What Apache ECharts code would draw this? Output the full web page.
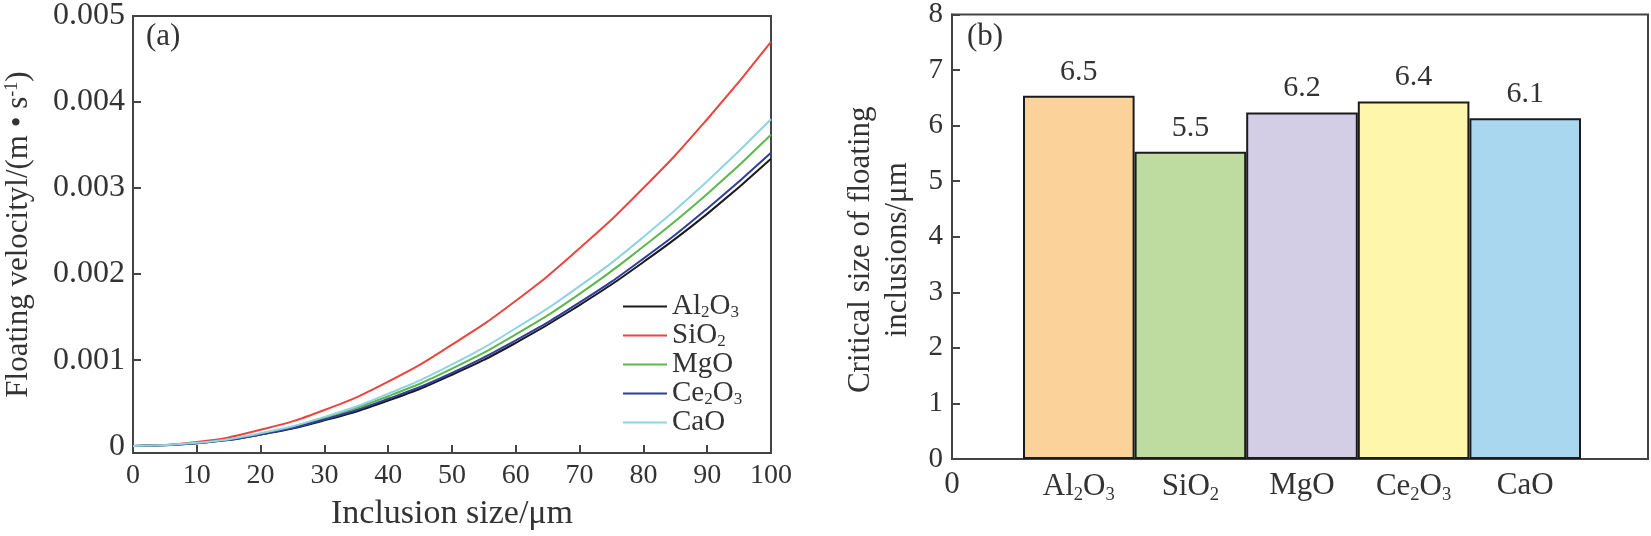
<!DOCTYPE html>
<html>
<head>
<meta charset="utf-8">
<script src="https://cdn.jsdelivr.net/npm/echarts@6/dist/echarts.min.js"></script>
<style>
  html, body { margin: 0; padding: 0; background: #fff; }
  #main { width: 1651px; height: 536px; }
</style>
</head>
<body>
<div id="main"></div>
<script>
// (a) floating velocity vs inclusion size, every 10 um
const sizes = [0, 10, 20, 30, 40, 50, 60, 70, 80, 90, 100]
const al2o3 = [0, 0.000033, 0.000134, 0.0003, 0.00053, 0.00083, 0.0012, 0.00164, 0.00214, 0.0027, 0.00334]
const sio2 = [0, 0.000047, 0.00019, 0.00042, 0.00075, 0.00118, 0.00169, 0.0023, 0.003, 0.0038, 0.0047]
const mgo = [0, 0.000036, 0.000145, 0.00033, 0.00058, 0.0009, 0.0013, 0.00177, 0.00232, 0.00293, 0.00362]
const ce2o3 = [0, 0.000034, 0.000136, 0.00031, 0.00055, 0.00085, 0.00123, 0.00167, 0.00218, 0.00276, 0.00341]
const cao = [0, 0.000038, 0.00015, 0.00034, 0.00061, 0.00095, 0.00137, 0.00186, 0.00243, 0.00308, 0.0038]
const velocityTicks = [0, 0.001, 0.002, 0.003, 0.004, 0.005]

// (b) critical size of floating inclusions
const oxides = ['Al2O3', 'SiO2', 'MgO', 'Ce2O3', 'CaO']
const criticalSize = [6.5, 5.5, 6.2, 6.4, 6.1]

const FONT = "'Liberation Serif', 'Times New Roman', serif"
const AXIS = '#444'
const lineColors = ['#1b1b1b', '#e8463e', '#5cb84a', '#2f3f9c', '#8fd4e0']
const barColors = ['#fcd29b', '#bedca0', '#d3cee6', '#fef6aa', '#aad7f0']

// chemical formula -> rich text with subscript digits
const formula = name => name.replace(/(\d)/g, '{s|$1}')
const subRich = size => ({
  s: { fontSize: size * 0.6, fontFamily: FONT, color: '#333', verticalAlign: 'bottom', padding: [size * 0.5, 0, 0, 0] }
})

const lineSeries = [al2o3, sio2, mgo, ce2o3, cao].map((vals, i) => ({
  name: oxides[i],
  type: 'line',
  xAxisIndex: 0,
  yAxisIndex: 0,
  smooth: true,
  symbol: 'none',
  data: sizes.map((x, j) => [x, vals[j]]),
  lineStyle: { color: lineColors[i], width: 2 },
  itemStyle: { color: lineColors[i] }
}))

const myChart = echarts.init(document.getElementById('main'))
const option = {
  animation: false,
  textStyle: { fontFamily: FONT },
  grid: [
    { left: 133, top: 12, width: 638, height: 447, show: true, borderColor: AXIS, borderWidth: 2 },
    { left: 952, top: 12, width: 696, height: 447, show: true, borderColor: AXIS, borderWidth: 2 },
    { left: 1023, top: 12, width: 558, height: 447 }
  ],
  legend: {
    data: oxides,
    orient: 'vertical',
    left: 618,
    top: 287,
    itemWidth: 44,
    itemHeight: 14,
    itemGap: 0,
    icon: 'path://M0,6 L44,6 L44,8 L0,8 Z',
    formatter: formula,
    textStyle: {
      fontSize: 29, fontFamily: FONT, color: '#333', lineHeight: 29,
      rich: { s: { fontSize: 17, lineHeight: 17, fontFamily: FONT, color: '#333', verticalAlign: 'bottom', padding: [12, 0, 0, 0] } }
    }
  },
  xAxis: [
    {
      gridIndex: 0, type: 'value', min: 0, max: 100, interval: 10,
      name: 'Inclusion size/μm', nameLocation: 'middle', nameGap: 44,
      nameTextStyle: { fontSize: 34, fontFamily: FONT, color: '#333' },
      axisLine: { show: true, onZero: false, lineStyle: { color: AXIS, width: 2 } },
      axisTick: { inside: true, length: 8, lineStyle: { color: AXIS, width: 2 } },
      axisLabel: { fontSize: 28, color: '#333', margin: 9 },
      splitLine: { show: false }
    },
    {
      gridIndex: 1, type: 'value', min: 0, max: 1,
      axisLine: { show: true, onZero: false, lineStyle: { color: AXIS, width: 2 } },
      axisTick: { show: false },
      axisLabel: { fontSize: 31, color: '#333', margin: 10, customValues: [0], formatter: () => '0' },
      splitLine: { show: false }
    },
    {
      gridIndex: 2, type: 'category', data: oxides,
      axisLine: { show: false },
      axisTick: { show: false },
      axisLabel: { interval: 0, fontSize: 31, color: '#333', margin: 11, formatter: formula, rich: subRich(31) }
    }
  ],
  yAxis: [
    {
      gridIndex: 0, type: 'value', min: -0.00008, max: 0.005,
      name: 'Floating velocityl/(m • s{p|-1})', nameLocation: 'middle', nameGap: 98,
      nameTextStyle: {
        fontSize: 31, fontFamily: FONT, color: '#333',
        rich: { p: { fontSize: 18, fontFamily: FONT, color: '#333', verticalAlign: 'top', padding: [0, 0, 14, 0] } }
      },
      axisLine: { show: true, lineStyle: { color: AXIS, width: 2 } },
      axisTick: { inside: true, length: 8, customValues: velocityTicks, lineStyle: { color: AXIS, width: 2 } },
      axisLabel: {
        fontSize: 32, color: '#333', margin: 8, customValues: velocityTicks,
        formatter: v => (v === 0 ? '0' : v.toFixed(3))
      },
      splitLine: { show: false }
    },
    {
      gridIndex: 1, type: 'value', min: 0, max: 8, interval: 1,
      name: 'Critical size of floating\ninclusions/μm', nameLocation: 'middle', nameGap: 36,
      nameTextStyle: { fontSize: 31, fontFamily: FONT, color: '#333', lineHeight: 37, padding: [0, 0, 0, -26] },
      axisLine: { show: true, lineStyle: { color: AXIS, width: 2 } },
      axisTick: { inside: true, length: 8, lineStyle: { color: AXIS, width: 2 } },
      axisLabel: { fontSize: 29, color: '#333', margin: 9 },
      splitLine: { show: false }
    },
    { gridIndex: 2, type: 'value', min: 0, max: 8, show: false }
  ],
  series: [
    ...lineSeries,
    {
      type: 'bar',
      xAxisIndex: 2,
      yAxisIndex: 2,
      barCategoryGap: 0,
      data: criticalSize.map((v, i) => ({
        value: v,
        itemStyle: { color: barColors[i], borderColor: '#1b1b1b', borderWidth: 2 }
      })),
      label: {
        show: true, position: 'top', distance: 9,
        fontSize: 30, fontFamily: FONT, color: '#333',
        formatter: p => p.value.toFixed(1)
      }
    }
  ],
  graphic: [
    { type: 'text', left: 146, top: 21, style: { text: '(a)', font: '31px ' + FONT, fill: '#333' } },
    { type: 'text', left: 967, top: 21, style: { text: '(b)', font: '31px ' + FONT, fill: '#333' } }
  ]
}
myChart.setOption(option)
</script>
</body>
</html>
